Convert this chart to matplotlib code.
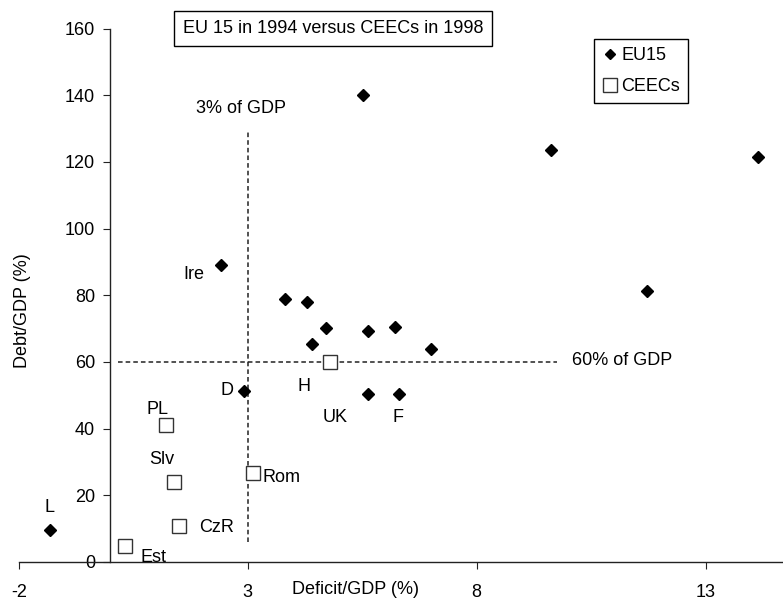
import matplotlib
matplotlib.use("Agg")
import matplotlib.pyplot as plt

plt.rcParams['font.family'] = ['Liberation Sans', 'DejaVu Sans']
plt.rcParams['axes.unicode_minus'] = False

# EU15 in 1994 (deficit %, debt %)
eu_deficit = [-1.32, 2.41, 2.92, 3.81, 4.29, 4.71, 4.40, 5.62, 6.22, 7.00, 5.62, 6.30, 5.51, 9.62, 14.14, 11.72]
eu_debt = [9.6, 89.1, 51.2, 78.9, 78.1, 70.1, 65.4, 69.3, 70.4, 63.9, 50.4, 50.4, 140.1, 123.6, 121.4, 81.3]

# CEECs in 1998: H, PL, Slv, CzR, Est, Rom
ceec_deficit = [4.80, 1.22, 1.40, 1.49, 0.31, 3.11]
ceec_debt = [59.9, 41.1, 23.9, 10.8, 4.9, 26.8]

# point labels (text, x, y)
point_labels = [
    ("L", -1.32, 16.2), ("Ire", 1.83, 86.1), ("D", 2.55, 51.3),
    ("H", 4.23, 52.5), ("UK", 4.91, 43.2), ("F", 6.28, 43.2),
    ("PL", 1.03, 45.8), ("Slv", 1.12, 30.8), ("Rom", 3.73, 25.3),
    ("CzR", 2.31, 10.4), ("Est", 0.95, 1.4),
]

xticks = [-2, 3, 8, 13]
yticks = [0, 20, 40, 60, 80, 100, 120, 140, 160]

FS = 13

W, H = 783, 600
fig = plt.figure(figsize=(W / 100, H / 100), dpi=100)
x0, x1 = 18.7, 783.6
y0, y1 = 562.0, 28.6
ax = fig.add_axes([x0 / W, (H - y0) / H, (x1 - x0) / W, (y0 - y1) / H])
ax.set_xlim(-2, 14.7)
ax.set_ylim(0, 160)

ax.spines['top'].set_visible(False)
ax.spines['right'].set_visible(False)
ax.spines['left'].set_position(('data', 0))
for s in ('left', 'bottom'):
    ax.spines[s].set_color('#222222')
    ax.spines[s].set_linewidth(1.0)

ax.set_xticks(xticks)
ax.set_yticks(yticks)
ax.tick_params(axis='x', direction='out', length=5, pad=10.5, labelsize=FS, color='#222222')
ax.tick_params(axis='y', direction='out', length=5, pad=6, labelsize=FS, color='#222222')

ax.set_xlabel("Deficit/GDP (%)", fontsize=FS, va='center')
ax.xaxis.set_label_coords((356 - x0) / (x1 - x0), (y0 - 589.5) / (y0 - y1))
ax.set_ylabel("Debt/GDP (%)", fontsize=FS, va='center')
ax.yaxis.set_label_coords((23 - x0) / (x1 - x0), (y0 - 311) / (y0 - y1))

# reference lines
ax.plot([3, 3], [6, 129], color='#222222', lw=1.1, ls=(0, (3, 2)))
ax.plot([0.17, 9.75], [60, 60], color='#222222', lw=1.1, ls=(0, (3, 2)))

ax.plot(eu_deficit, eu_debt, ls='none', marker='D', ms=6.2, color='black', label='EU15', clip_on=False)
ax.plot(ceec_deficit, ceec_debt, ls='none', marker='s', ms=10.5, mfc='white', mec='#333333',
        mew=1.0, label='CEECs', clip_on=False)

for txt, x, y in point_labels:
    ax.text(x, y, txt, ha='center', va='center', fontsize=FS)

ax.text(2.86, 136.1, "3% of GDP", ha='center', va='center', fontsize=FS)
ax.text(11.17, 60.3, "60% of GDP", ha='center', va='center', fontsize=FS)

ax.text(4.86, 159.9, "EU 15 in 1994 versus CEECs in 1998", ha='center', va='center', fontsize=FS,
        bbox=dict(boxstyle='square,pad=0.5', fc='white', ec='black', lw=1.0))

leg = ax.legend(loc='upper left', bbox_to_anchor=(594.3 / W, (H - 39.3) / H),
                bbox_transform=fig.transFigure, borderaxespad=0, fancybox=False,
                edgecolor='black', framealpha=1, fontsize=FS, handlelength=0.8,
                handletextpad=0.25, labelspacing=0.75, borderpad=0.45, markerscale=0.9)
leg.get_frame().set_linewidth(1.0)

fig.savefig("out.png", dpi=100)
